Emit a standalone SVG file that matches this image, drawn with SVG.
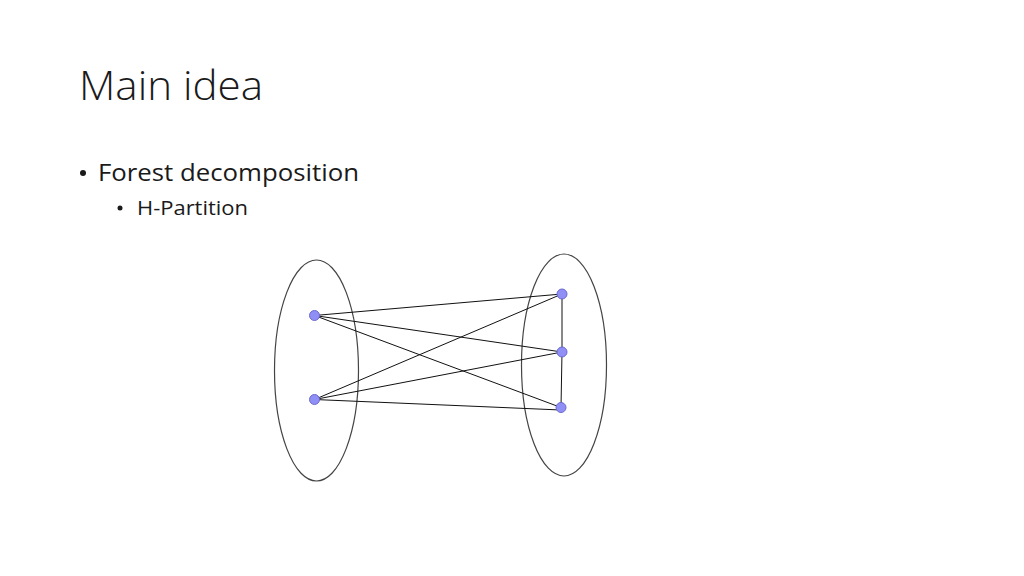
<svg xmlns="http://www.w3.org/2000/svg" width="1024" height="576" viewBox="0 0 1024 576">
<style>
.t{font-family:"Open Sans","Liberation Sans",sans-serif;fill:#1a1a1a}
.grp{fill:none;stroke:#444;stroke-width:1.2}
.e{stroke:#111;stroke-width:1}
.n{fill:#8f8ff5;stroke:#6a6ad0;stroke-width:1}
</style>
<rect width="1024" height="576" fill="#fff"/>
<text class="t" x="79" y="100" font-size="40" font-weight="300" textLength="184" lengthAdjust="spacingAndGlyphs">Main idea</text>
<circle cx="83" cy="173" r="3" fill="#1a1a1a"/>
<text class="t" x="98" y="181" font-size="24" textLength="261" lengthAdjust="spacingAndGlyphs">Forest decomposition</text>
<circle cx="120" cy="208" r="2.5" fill="#1a1a1a"/>
<text class="t" x="137" y="215" font-size="20" textLength="111" lengthAdjust="spacingAndGlyphs">H-Partition</text>
<g id="groupA"><ellipse class="grp" cx="316.5" cy="370.5" rx="42" ry="110.5"/></g>
<g id="groupB"><ellipse class="grp" cx="564" cy="365" rx="42.5" ry="111"/></g>
<g id="edges">
<line class="e" x1="314.5" y1="315.5" x2="562" y2="294"/>
<line class="e" x1="314.5" y1="315.5" x2="562" y2="352"/>
<line class="e" x1="314.5" y1="315.5" x2="561" y2="407.5"/>
<line class="e" x1="314.5" y1="399.5" x2="562" y2="294"/>
<line class="e" x1="314.5" y1="399.5" x2="562" y2="352"/>
<line class="e" x1="314.5" y1="399.5" x2="561" y2="410"/>
<line class="e" x1="562" y1="294" x2="562" y2="352"/>
<line class="e" x1="562" y1="352" x2="561" y2="407.5"/>
</g>
<g id="a1"><circle class="n" cx="314.5" cy="315.5" r="5"/></g>
<g id="a2"><circle class="n" cx="314.5" cy="399.5" r="5"/></g>
<g id="b1"><circle class="n" cx="562" cy="294" r="5"/></g>
<g id="b2"><circle class="n" cx="562" cy="352" r="5"/></g>
<g id="b3"><circle class="n" cx="561" cy="407.5" r="5"/></g>
</svg>
